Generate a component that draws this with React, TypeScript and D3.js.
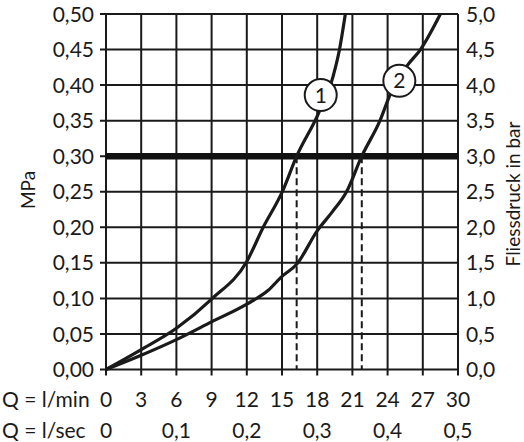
import React, { useEffect, useRef } from "react";
import * as d3 from "d3";

// flow in l/min (x) vs flow pressure in MPa (y)
const curve1 = [
  [0, 0], [3, 0.028], [6, 0.058], [9, 0.099], [12, 0.152], [13.4, 0.2],
  [15, 0.249], [16.25, 0.3], [18.1, 0.36], [19.35, 0.412], [19.9, 0.45], [20.4, 0.5],
];
const curve2 = [
  [0, 0], [3, 0.02], [6, 0.042], [9, 0.067], [12, 0.092], [13.8, 0.111],
  [15, 0.131], [16.25, 0.148], [18, 0.195], [19.3, 0.222], [20.5, 0.25], [21.8, 0.3],
  [23.35, 0.35], [24.3, 0.39], [25.7, 0.428], [26.8, 0.45], [28.5, 0.5],
];
const curveLabels = [
  { name: "1", q: 18.3, p: 0.386 },
  { name: "2", q: 25.0, p: 0.406 },
];
const referencePressure = 0.3;
const readings = [16.25, 21.8];

const mpaTicks = [0, 0.05, 0.1, 0.15, 0.2, 0.25, 0.3, 0.35, 0.4, 0.45, 0.5];
const mpaLabels = ["0,00", "0,05", "0,10", "0,15", "0,20", "0,25", "0,30", "0,35", "0,40", "0,45", "0,50"];
const barLabels = ["0,0", "0,5", "1,0", "1,5", "2,0", "2,5", "3,0", "3,5", "4,0", "4,5", "5,0"];
const lminTicks = [0, 3, 6, 9, 12, 15, 18, 21, 24, 27, 30];
const lsecTicks = [0, 6, 12, 18, 24, 30];
const lsecLabels = ["0", "0,1", "0,2", "0,3", "0,4", "0,5"];

const FONT = "Lato, 'Open Sans', sans-serif";

const App = () => {
  const ref = useRef<SVGSVGElement>(null);

  useEffect(() => {
    const svg = d3.select(ref.current);
    svg.selectAll("*").remove();

    const x = d3.scaleLinear().domain([0, 30]).range([106, 458]);
    const y = d3.scaleLinear().domain([0, 0.5]).range([369.5, 14]);

    const g = svg.append("g").style("font-family", FONT).attr("fill", "#1a1a1a");

    // grid
    g.selectAll(".hgrid")
      .data(mpaTicks)
      .enter()
      .append("line")
      .attr("x1", x(0) - 6)
      .attr("x2", x(30))
      .attr("y1", (d) => y(d))
      .attr("y2", (d) => y(d))
      .attr("stroke", "#1a1a1a")
      .attr("stroke-width", 2);

    g.selectAll(".vgrid")
      .data(lminTicks)
      .enter()
      .append("line")
      .attr("x1", (d) => x(d))
      .attr("x2", (d) => x(d))
      .attr("y1", y(0.5))
      .attr("y2", y(0) + 6)
      .attr("stroke", "#1a1a1a")
      .attr("stroke-width", 2);

    // dashed reading lines
    g.selectAll(".reading")
      .data(readings)
      .enter()
      .append("line")
      .attr("x1", (d) => x(d))
      .attr("x2", (d) => x(d))
      .attr("y1", y(referencePressure))
      .attr("y2", y(0))
      .attr("stroke", "#1a1a1a")
      .attr("stroke-width", 2)
      .attr("stroke-dasharray", "7,4");

    // reference pressure line
    g.append("line")
      .attr("x1", x(0))
      .attr("x2", x(30))
      .attr("y1", y(referencePressure))
      .attr("y2", y(referencePressure))
      .attr("stroke", "#111")
      .attr("stroke-width", 6.5);

    const line = d3
      .line()
      .x((d) => x(d[0]))
      .y((d) => y(d[1]))
      .curve(d3.curveMonotoneX);

    [curve1, curve2].forEach((c) => {
      g.append("path")
        .attr("d", line(c as [number, number][]))
        .attr("fill", "none")
        .attr("stroke", "#1a1a1a")
        .attr("stroke-width", 3.2);
    });

    // curve labels
    const lab = g
      .selectAll(".lab")
      .data(curveLabels)
      .enter()
      .append("g")
      .attr("transform", (d) => `translate(${x(d.q)},${y(d.p)})`);
    lab
      .append("circle")
      .attr("r", 16)
      .attr("fill", "white")
      .attr("stroke", "#1a1a1a")
      .attr("stroke-width", 2);
    lab
      .append("text")
      .attr("text-anchor", "middle")
      .attr("dy", "0.36em")
      .attr("font-size", 21)
      .text((d) => d.name);

    // left axis labels
    g.selectAll(".ylab")
      .data(mpaTicks)
      .enter()
      .append("text")
      .attr("x", 94)
      .attr("y", (d) => y(d))
      .attr("dy", "0.36em")
      .attr("text-anchor", "end")
      .attr("font-size", 21)
      .text((d, i) => mpaLabels[i]);

    // right axis labels
    g.selectAll(".rlab")
      .data(mpaTicks)
      .enter()
      .append("text")
      .attr("x", 466)
      .attr("y", (d) => y(d))
      .attr("dy", "0.36em")
      .attr("text-anchor", "start")
      .attr("font-size", 21)
      .text((d, i) => barLabels[i]);

    // bottom labels
    g.append("text").attr("x", 2).attr("y", 407).attr("font-size", 21).text("Q = l/min");
    g.append("text").attr("x", 2).attr("y", 438).attr("font-size", 21).text("Q = l/sec");

    g.selectAll(".xlab")
      .data(lminTicks)
      .enter()
      .append("text")
      .attr("x", (d) => x(d))
      .attr("y", 407)
      .attr("text-anchor", "middle")
      .attr("font-size", 21)
      .text((d) => String(d));

    g.selectAll(".slab")
      .data(lsecTicks)
      .enter()
      .append("text")
      .attr("x", (d) => x(d))
      .attr("y", 438)
      .attr("text-anchor", "middle")
      .attr("font-size", 21)
      .text((d, i) => lsecLabels[i]);

    // axis titles
    g.append("text")
      .attr("transform", "translate(28,190) rotate(-90)")
      .attr("text-anchor", "middle")
      .attr("dy", "0.36em")
      .attr("font-size", 19)
      .text("MPa");

    g.append("text")
      .attr("transform", "translate(513,194) rotate(-90)")
      .attr("text-anchor", "middle")
      .attr("dy", "0.36em")
      .attr("font-size", 19)
      .text("Fliessdruck in bar");
  }, []);

  return (
    <svg
      ref={ref}
      width={524}
      height={442}
      style={{ position: "absolute", left: 0, top: 0, background: "white" }}
    />
  );
};

export default App;
